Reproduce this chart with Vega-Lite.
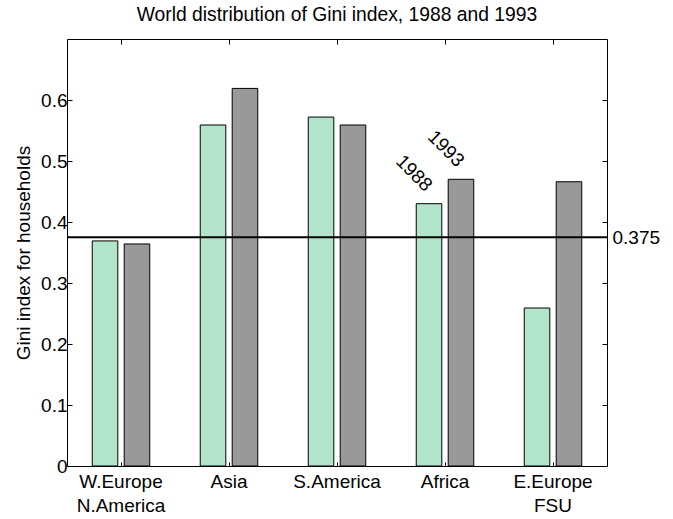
{
  "$schema": "https://vega.github.io/schema/vega-lite/v6.json",
  "width": 540,
  "height": 427,
  "autosize": {"type": "none"},
  "padding": {"left": 67, "top": 39, "right": 66, "bottom": 53},
  "title": {
    "text": "World distribution of Gini index, 1988 and 1993",
    "font": "Liberation Sans",
    "fontSize": 19.3,
    "fontWeight": "normal",
    "color": "#000000",
    "anchor": "middle",
    "offset": 13
  },
  "config": {
    "view": {"stroke": "#000000", "strokeWidth": 1},
    "font": "Liberation Sans",
    "axis": {
      "domain": false,
      "grid": false,
      "labelFont": "Liberation Sans",
      "labelFontSize": 19,
      "labelColor": "#000000",
      "tickColor": "#000000",
      "tickSize": -5,
      "titleFont": "Liberation Sans",
      "titleFontWeight": "normal",
      "titleColor": "#000000"
    }
  },
  "data": {
    "values": [
      {"region": "W.Europe N.America", "year": "1988", "gini": 0.369},
      {"region": "W.Europe N.America", "year": "1993", "gini": 0.364},
      {"region": "Asia", "year": "1988", "gini": 0.559},
      {"region": "Asia", "year": "1993", "gini": 0.619},
      {"region": "S.America", "year": "1988", "gini": 0.572},
      {"region": "S.America", "year": "1993", "gini": 0.559},
      {"region": "Africa", "year": "1988", "gini": 0.430},
      {"region": "Africa", "year": "1993", "gini": 0.470},
      {"region": "E.Europe FSU", "year": "1988", "gini": 0.259},
      {"region": "E.Europe FSU", "year": "1993", "gini": 0.466}
    ]
  },
  "resolve": {"axis": {"x": "independent", "y": "independent"}},
  "layer": [
    {
      "mark": {"type": "bar", "stroke": "#000000", "strokeWidth": 1},
      "encoding": {
        "x": {
          "field": "region",
          "type": "nominal",
          "sort": ["W.Europe N.America", "Asia", "S.America", "Africa", "E.Europe FSU"],
          "scale": {"domain": ["W.Europe N.America", "Asia", "S.America", "Africa", "E.Europe FSU"], "paddingInner": 0, "paddingOuter": 0},
          "axis": {
            "orient": "bottom",
            "title": null,
            "labelAngle": 0,
            "labelExpr": "split(datum.label, ' ')",
            "labelLineHeight": 24.5,
            "labelPadding": 10,
            "tickSize": -4
          }
        },
        "xOffset": {
          "field": "year",
          "type": "nominal",
          "scale": {"domain": ["1988", "1993"], "paddingInner": 0.2, "paddingOuter": 0.79}
        },
        "y": {
          "field": "gini",
          "type": "quantitative",
          "scale": {"domain": [0, 0.7], "nice": false, "zero": true},
          "axis": {
            "orient": "left",
            "values": [0, 0.1, 0.2, 0.3, 0.4, 0.5, 0.6],
            "format": "~g",
            "title": "Gini index for households",
            "titleFontSize": 19,
            "labelPadding": 5,
            "titlePadding": 7
          }
        },
        "color": {
          "field": "year",
          "type": "nominal",
          "scale": {"domain": ["1988", "1993"], "range": ["#b3e5cc", "#999999"]},
          "legend": null
        }
      }
    },
    {
      "data": {"values": [{"ref": 0.375}]},
      "mark": {"type": "rule", "color": "#000000", "strokeWidth": 2},
      "encoding": {
        "y": {
          "field": "ref",
          "type": "quantitative",
          "axis": {
            "orient": "right",
            "values": [0.1, 0.2, 0.3, 0.375, 0.4, 0.5, 0.6],
            "labelExpr": "datum.value == 0.375 ? '0.375' : ''",
            "tickOpacity": {"condition": {"test": "datum.value == 0.375", "value": 0}, "value": 1},
            "labelPadding": 10,
            "title": null
          }
        }
      }
    },
    {
      "transform": [{"filter": "datum.region == 'Africa'"}],
      "mark": {"type": "text", "angle": 45, "align": "right", "baseline": "middle", "dx": -11, "dy": -11, "fontSize": 19, "font": "Liberation Sans", "color": "#000000"},
      "encoding": {
        "x": {
          "field": "region",
          "type": "nominal",
          "axis": {"orient": "top", "labels": false, "title": null, "tickSize": -5}
        },
        "xOffset": {"field": "year", "type": "nominal"},
        "y": {"field": "gini", "type": "quantitative", "axis": null},
        "text": {"field": "year"}
      }
    }
  ]
}
